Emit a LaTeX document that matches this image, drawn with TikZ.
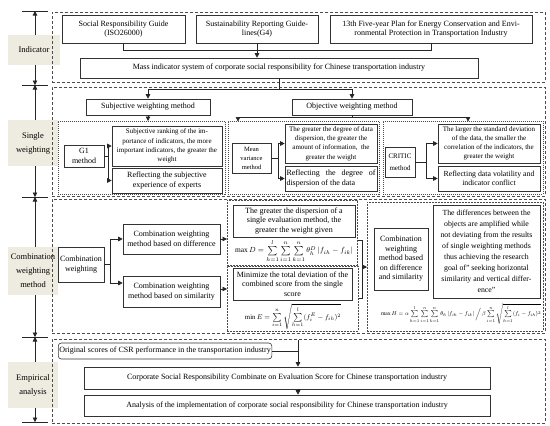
\documentclass[tikz,border=0pt]{standalone}
\usepackage{fontspec}
\setmainfont{Liberation Serif}
\usetikzlibrary{arrows.meta}
\definecolor{beige}{HTML}{EEECE1}
\newcommand\fsz{\fontsize{8}{9.5}\selectfont}
\newcommand\fszs{\fontsize{7}{9.2}\selectfont}
\newcommand\fszxs{\fontsize{6.5}{9}\selectfont}
\newcommand\fszl{\fontsize{8.5}{14}\selectfont}
\begin{document}
\begin{tikzpicture}[x=1pt,y=-1pt,
  every node/.style={inner sep=1pt},
  bx/.style={draw=black!80, line width=0.6pt, align=center, font=\fsz},
  lab/.style={fill=beige, align=center, font=\fszl},
  ln/.style={line width=0.6pt, draw=black!85},
  arr/.style={ln, -{Triangle[length=4.5pt,width=4.5pt]}},
  sect/.style={draw=black!70, line width=0.6pt, dash pattern=on 3pt off 2pt, anchor=north west},
  grpA/.style={draw=black!70, line width=0.6pt, dash pattern=on 1pt off 1pt, anchor=north west},
  grpB/.style={draw=black!70, line width=0.6pt, dash pattern=on 2pt off 1pt, anchor=north west},
  fml/.style={font=\fsz},
]
\useasboundingbox (0,0) rectangle (550,426);

% ---- left axis labels ----
\node[lab, minimum width=52pt, minimum height=30pt] (L1) at (34,50) {Indicator};
\node[lab, minimum width=50pt, minimum height=46pt] (L2) at (33,143) {Single\\weighting};
\node[lab, minimum width=50pt, minimum height=48pt] (L3) at (33,271) {Combination\\weighting\\method};
\node[lab, minimum width=50pt, minimum height=46pt] (L4) at (33,385) {Empirical\\analysis};

\coordinate (t0) at (35,11);
\coordinate (t1) at (35,85);
\coordinate (t2) at (35,197);
\coordinate (t3) at (35,337);
\coordinate (t4) at (35,422);
\foreach \t in {t0,t1,t2,t3,t4} \draw[ln] ([xshift=-13pt]\t) -- ([xshift=13pt]\t);
\draw[arr] (L1.north -| t0) -- (t0);
\draw[arr] (L1.south -| t0) -- (t1);
\draw[arr] (L2.north -| t0) -- (t1);
\draw[arr] (L2.south -| t0) -- (t2);
\draw[arr] (L3.north -| t0) -- (t2);
\draw[arr] (L3.south -| t0) -- (t3);
\draw[arr] (L4.north -| t0) -- (t3);
\draw[arr] (L4.south -| t0) -- (t4);

% ---- sections ----
\node[sect, minimum width=493pt, minimum height=70pt] (S1) at (52,12) {};
\node[sect, minimum width=493pt, minimum height=109pt] (S2) at (52,87) {};
\node[sect, minimum width=493pt, minimum height=134pt] (S3) at (52,199) {};
\node[sect, minimum width=493pt, minimum height=84pt] (S4) at (52,339) {};

% ---- section 1 ----
\node[bx, minimum width=123pt, minimum height=28pt] (A) at (123.5,29) {Social Responsibility Guide\\(ISO26000)};
\node[bx, minimum width=122pt, minimum height=28pt] (B) at (257,29) {Sustainability Reporting Guide-\\lines(G4)};
\node[bx, minimum width=202pt, minimum height=28pt] (C) at (431,29) {13th Five-year Plan for Energy Conservation and Envi-\\ronmental Protection in Transportation Industry};
\node[bx, minimum width=398pt, minimum height=20pt] (D) at (279,68) {Mass indicator system of corporate social responsibility for Chinese transportation industry};
\draw[ln] (A.south) -- (A.south |- 0,50) -| (C.south);
\draw[arr] (B.south) -- (B.south |- D.north);

% ---- section 2 ----
\node[bx, minimum width=124pt, minimum height=16pt] (Subj) at (148,107) {Subjective weighting method};
\node[bx, minimum width=120pt, minimum height=16pt] (Obj) at (352,107) {Objective weighting method};
\draw[ln] (D.south) -- (D.south |- 0,89);
\draw[ln] (Subj.north |- 0,89) -- (Obj.north |- 0,89);
\draw[arr] (Subj.north |- 0,89) -- (Subj.north);
\draw[arr] (Obj.north |- 0,89) -- (Obj.north);

\node[grpA, minimum width=167pt, minimum height=73pt] (G1g) at (58,121) {};
\node[grpA, minimum width=151pt, minimum height=73pt] (Mg) at (228,121) {};
\node[grpA, minimum width=160pt, minimum height=73pt] (Cg) at (383,121) {};
\draw[arr] (Subj.south) -- (Subj.south |- G1g.north);
\draw[ln] (Obj.south) -- (Obj.south |- 0,117);
\draw[ln] (238,117) -- (468,117);
\draw[arr] (238,117) -- (238,121.5);
\draw[arr] (468,117) -- (468,121.5);

\node[bx, minimum width=40pt, minimum height=22pt] (G1) at (84,156) {G1\\method};
\node[bx, font=\fszs, minimum width=110pt, minimum height=40pt] (SR) at (167,146) {Subjective ranking of the im-\\portance of indicators, the more\\important indicators, the greater the\\weight};
\node[bx, minimum width=110pt, minimum height=25pt] (RS) at (167,180.5) {Reflecting the subjective\\experience of experts};
\draw[ln] (G1.east) -- (108,156);
\draw[ln] (108,146) -- (108,180.5);
\draw[arr] (108,146) -- (SR.west);
\draw[arr] (108,180.5) -- (RS.west);

\node[bx, font=\fszxs, minimum width=39pt, minimum height=30pt] (MV) at (251.5,158) {Mean\\variance\\method};
\node[bx, font=\fszs, minimum width=92pt, minimum height=39pt] (GD) at (331,143.5) {The greater the degree of data\\dispersion, the greater the\\amount of information, \ the\\greater the weight};
\node[bx, align=justify, text width=89pt, minimum width=92pt, minimum height=25pt, inner sep=1.5pt] (RD) at (331,178.5) {Reflecting the degree of\linebreak dispersion of the data};
\draw[ln] (MV.east) -- (278,158);
\draw[ln] (278,143.5) -- (278,178.5);
\draw[arr] (278,143.5) -- (GD.west);
\draw[arr] (278,178.5) -- (RD.west);

\node[bx, font=\fszs, minimum width=30pt, minimum height=30pt] (CR) at (400,162) {CRITIC\\[3pt]method};
\node[bx, font=\fszs, minimum width=102pt, minimum height=39pt] (SD) at (489,143.5) {The larger the standard deviation\\of the data, the smaller the\\correlation of the indicators, the\\greater the weight};
\node[bx, font=\fontsize{7.8}{9.5}\selectfont, minimum width=102pt, minimum height=25pt] (RV) at (489,178.5) {Reflecting data volatility and\\indicator conflict};
\draw[ln] (CR.east) -- (426,162);
\draw[ln] (426,143.5) -- (426,178.5);
\draw[arr] (426,143.5) -- (SD.west);
\draw[arr] (426,178.5) -- (RV.west);

% ---- section 3 ----
\node[bx, minimum width=46pt, minimum height=35pt] (CW) at (81,264.5) {Combination\\weighting};
\node[bx, minimum width=97pt, minimum height=30pt] (CWD) at (171.5,239) {Combination weighting\\method based on difference};
\node[bx, minimum width=97pt, minimum height=31pt] (CWS) at (171.5,291.5) {Combination weighting\\method based on similarity};
\draw[ln] (CW.east) -- (110,264.5);
\draw[ln] (110,239) -- (110,283);
\draw[arr] (110,239) -- (CWD.west);
\draw[arr] (110,283) -- (CWS.west |- 0,283);

\node[grpB, minimum width=130pt, minimum height=65pt] (UG) at (227,200) {};
\node[grpB, minimum width=131pt, minimum height=65pt] (LG) at (227,266) {};
\draw[arr] (CWD.east) -- (UG.west |- CWD.east);
\draw[arr] (CWS.east |- 0,289) -- (LG.west |- 0,289);

\node[bx, minimum width=122pt, minimum height=32pt] (DB) at (294,221) {The greater the dispersion of a\\single evaluation method, the\\greater the weight given};
\node[fml] (FD) at (294,251) {\resizebox{118pt}{!}{$\max D=\sum\limits_{h=1}^{l}\sum\limits_{i=1}^{n}\sum\limits_{k=1}^{n}\theta_h^D\left|f_{ih}-f_{ik}\right|$}};
\node[bx, minimum width=119pt, minimum height=32pt] (MB) at (292.5,284) {Minimize the total deviation of the\\combined score from the single\\score};
\node[fml] (FE) at (293,317) {\resizebox{96pt}{!}{$\min E=\sum\limits_{i=1}^{n}\sqrt{\sum\limits_{h=1}^{l}(f_i^E-f_{ih})^2}$}};

\node[grpB, minimum width=176pt, minimum height=129pt] (RG) at (367,202) {};
\draw[ln] (UG.east |- 0,240) -- (362,240) -- (362,298) -- (LG.east |- 0,298);
\draw[arr] (362,267) -- (RG.west |- 0,267);

\node[bx, minimum width=54pt, minimum height=62pt] (CDS) at (401,259) {Combination\\weighting\\method based\\on difference\\and similarity};
\node[bx, font=\fontsize{7.8}{11}\selectfont, minimum width=107pt, minimum height=93pt] (BB) at (486.5,251.5) {The differences between the\\objects are amplified while\\not deviating from the results\\of single weighting methods\\thus achieving the research\\goal of" seeking horizontal\\similarity and vertical differ-\\ence"};
\node[fml] (FH) at (461,314) {\resizebox{160pt}{!}{$\max H=\alpha\sum\limits_{h=1}^{l}\sum\limits_{i=1}^{n}\sum\limits_{k=1}^{n}\theta_h\left|f_{ih}-f_{ik}\right|\Big/\,\beta\sum\limits_{i=1}^{n}\sqrt{\sum\limits_{h=1}^{l}(f_i-f_{ih})^2}$}};

% ---- section 4 ----
\node[bx, rounded corners=3pt, anchor=west, minimum height=16pt] (OS) at (58,351) {Original scores of CSR performance in the transportation industry};
\node[bx, minimum width=406pt, minimum height=22pt] (CS) at (287,378) {Corporate Social Responsibility Combinate on Evaluation Score for Chinese transportation industry};
\node[bx, minimum width=406pt, minimum height=21pt] (AN) at (287,405.5) {Analysis of the implementation of corporate social responsibility for Chinese transportation industry};
\coordinate (j4) at (298,340);
\draw[ln] (OS.east) -- (OS.east -| j4);
\draw[arr] (j4) -- (j4 |- CS.north);
\draw[arr] (j4 |- CS.south) -- (j4 |- AN.north);
\end{tikzpicture}
\end{document}
